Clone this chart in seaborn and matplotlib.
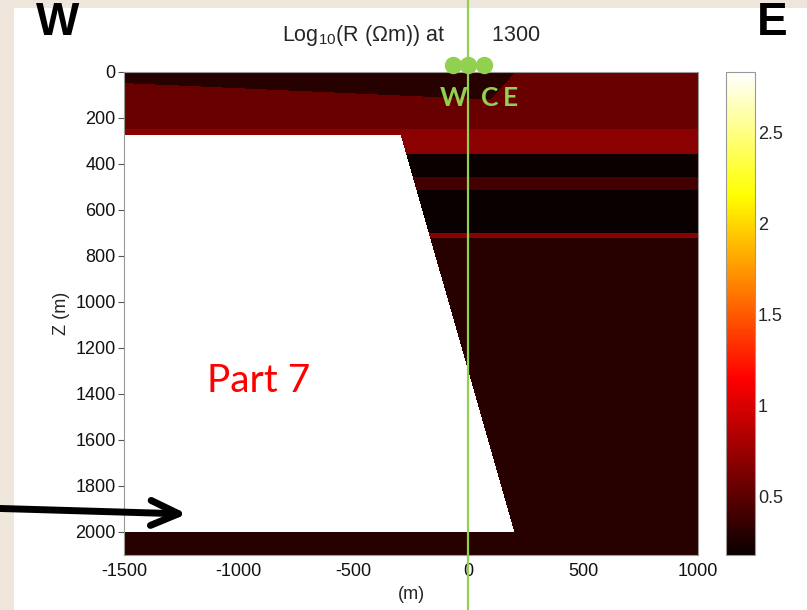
import numpy as np
import pandas as pd
import seaborn as sns
import matplotlib
matplotlib.use("Agg")
import matplotlib.pyplot as plt
from matplotlib.patches import Rectangle
from matplotlib.ticker import FuncFormatter

# ---- model geometry and resistivities (log10 ohm-m) ----
x_range = [-1500, 1000]          # horizontal extent (m)
z_range = [0, 2100]              # depth extent (m)
n_cols, n_rows = 574, 483        # grid resolution

# horizontal layers of the section (top depth, bottom depth, log10 R)
layer_top = [0, 250, 355, 455, 515, 698, 720]
layer_bottom = [250, 355, 455, 515, 698, 720, 2100]
layer_logr = [0.56, 0.69, 0.19, 0.41, 0.19, 0.69, 0.30]

# thin conductive cap near the surface
cap_base_x = [-1500, 100]        # base control points (x)
cap_base_z = [48, 120]           # base control points (depth)
cap_east_x = [205, 95]           # east edge at surface / at base
cap_logr = 0.30

# resistive block (trapezoid)
block_top = 273
block_bottom = 2000
block_east_top = -295
block_east_bottom = 200
block_logr = 2.83

cbar_range = [0.18, 2.83]
cbar_ticks = [0.5, 1, 1.5, 2, 2.5]
x_ticks = [-1500, -1000, -500, 0, 500, 1000]
z_ticks = [0, 200, 400, 600, 800, 1000, 1200, 1400, 1600, 1800, 2000]

station_x = [-65, 0, 70]
station_labels = ["W", "C", "E"]
station_label_x = [-5, 152, 244]
profile_x = 0

# ---- build the model grid ----
dx = (x_range[1] - x_range[0]) / n_cols
dz = (z_range[1] - z_range[0]) / n_rows
xc = x_range[0] + dx * (np.arange(n_cols) + 0.5)
zc = z_range[0] + dz * (np.arange(n_rows) + 0.5)
X, Z = np.meshgrid(xc, zc)
logr = np.zeros_like(X)
for top, bot, val in zip(layer_top, layer_bottom, layer_logr):
    logr[(Z >= top) & (Z < bot)] = val

cap_base = np.interp(X, cap_base_x, cap_base_z)
frac = np.clip(Z / cap_base_z[1], 0, 1)
cap_east = cap_east_x[0] + (cap_east_x[1] - cap_east_x[0]) * frac
logr[(Z < cap_base) & (X < cap_east)] = cap_logr

t = (Z - block_top) / (block_bottom - block_top)
block_east = block_east_top + (block_east_bottom - block_east_top) * t
logr[(Z >= block_top) & (Z < block_bottom) & (X < block_east)] = block_logr

grid = pd.DataFrame(logr, index=np.round(zc, 1), columns=np.round(xc, 1))

# ---- figure ----
sns.set_style("ticks")
plt.rcParams["font.family"] = ["Liberation Sans", "DejaVu Sans"]
plt.rcParams["mathtext.default"] = "regular"

W, H = 807, 610
fig = plt.figure(figsize=(W / 100, H / 100), dpi=100)
fig.patch.set_facecolor("#eee6da")
fig.add_artist(Rectangle((14 / W, 0), 1, 1 - 8 / H, transform=fig.transFigure,
                         facecolor="white", edgecolor="none", zorder=-10))

ax = fig.add_axes([124 / W, 1 - 555 / H, 574 / W, 483 / H])
cax = fig.add_axes([726 / W, 1 - 555 / H, 29 / W, 483 / H])

sns.heatmap(grid, ax=ax, cmap="hot", vmin=cbar_range[0], vmax=cbar_range[1],
            cbar_ax=cax, cbar_kws={"ticks": cbar_ticks},
            xticklabels=False, yticklabels=False, rasterized=True)


def to_col(v):
    return (v - x_range[0]) / dx


def to_row(v):
    return (v - z_range[0]) / dz


ax.set_xticks([to_col(v) for v in x_ticks])
ax.set_xticklabels([str(v) for v in x_ticks], rotation=0)
ax.set_yticks([to_row(v) for v in z_ticks])
ax.set_yticklabels([str(v) for v in z_ticks], rotation=0)
ax.tick_params(axis="both", direction="out", length=4, width=0.8,
               color="#555555", labelsize=13, pad=2, labelcolor="#111111")
ax.tick_params(axis="x", length=0, pad=6)
for s in ax.spines.values():
    s.set_visible(True)
    s.set_color("#999999")
    s.set_linewidth(0.8)
ax.set_xlabel("(m)", fontsize=13, labelpad=4)
ax.set_ylabel("Z (m)", fontsize=13, labelpad=4)
ax.set_title("Log$_{10}$(R ($\\Omega$m)) at        1300", fontsize=15.5, pad=22)

cax.tick_params(axis="y", direction="in", length=3, width=0.8, color="#555555",
                labelsize=13, left=True, right=True, pad=2)
cax.yaxis.set_major_formatter(FuncFormatter(lambda v, p: f"{v:g}"))
cbar = ax.collections[0].colorbar
cbar.outline.set_edgecolor("#999999")
cbar.outline.set_linewidth(0.8)

# profile line and receiver stations
green = "#92d050"
ax.axvline(to_col(profile_x), ymin=-0.3, ymax=1.4, color=green, lw=1.6,
           clip_on=False, zorder=5)
ax.plot([to_col(v) for v in station_x], [to_row(-30)] * 3, "o", color=green,
        markersize=11.5, clip_on=False, zorder=6)
for lab, lx in zip(station_labels, station_label_x):
    ax.text(to_col(lx - 60), to_row(115), lab, color=green, fontsize=19,
            fontweight="bold", family=["Lato", "DejaVu Sans"],
            ha="center", va="center", zorder=6)

# annotations
fig.text(58 / W, 1 - 23 / H, "W", fontsize=33, fontweight="bold",
         ha="center", va="center", color="black")
fig.text(772 / W, 1 - 23 / H, "E", fontsize=33, fontweight="bold",
         ha="center", va="center", color="black")
fig.text(259 / W, 1 - 381 / H, "Part 7", fontsize=28, color="#ff0000",
         family=["Lato", "DejaVu Sans"], ha="center", va="center")
ax.annotate("", xy=(187 / W, 1 - 514 / H), xytext=(-0.02, 1 - 508 / H),
            xycoords="figure fraction", textcoords="figure fraction",
            arrowprops=dict(arrowstyle="->,head_length=2,head_width=0.9",
                            lw=5, color="black", capstyle="round",
                            joinstyle="round", shrinkA=0, shrinkB=0))

fig.savefig("out.png", dpi=100, facecolor=fig.get_facecolor())
